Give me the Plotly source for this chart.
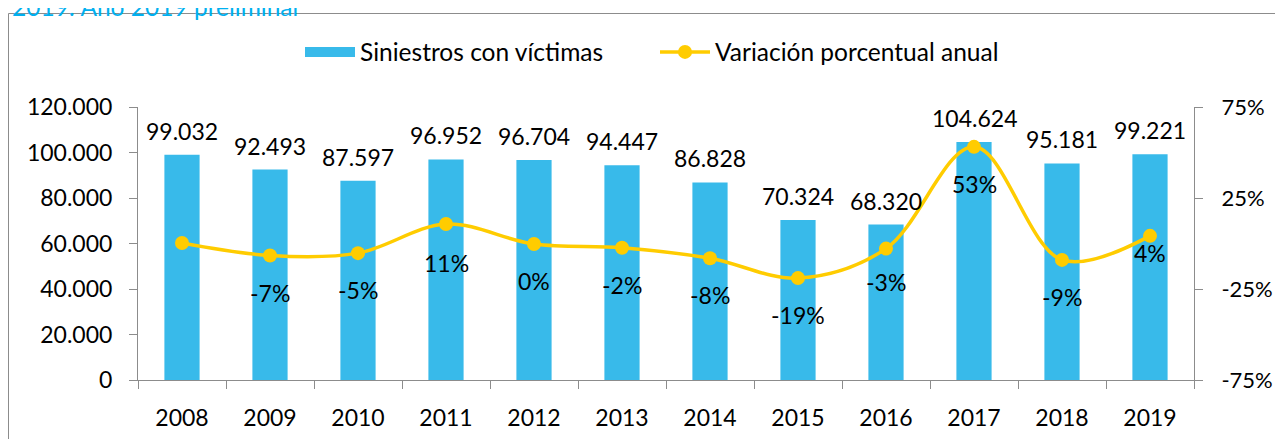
import plotly.graph_objects as go

years = ["2008", "2009", "2010", "2011", "2012", "2013", "2014", "2015", "2016", "2017", "2018", "2019"]
siniestros = [99032, 92493, 87597, 96952, 96704, 94447, 86828, 70324, 68320, 104624, 95181, 99221]
variacion = [0.3, -6.6, -5.3, 10.7, -0.3, -2.3, -8.1, -19.0, -2.8, 53.1, -9.0, 4.2]
show_var_label = [False, True, True, True, True, True, True, True, True, True, True, True]
left_ticks = [0, 20000, 40000, 60000, 80000, 100000, 120000]
right_ticks = [-75, -25, 25, 75]

BAR_COLOR = "#38BAEA"
LINE_COLOR = "#FFCC00"
AXIS_COLOR = "#8C8C8C"
FONT = "Lato, 'Liberation Sans', Arial, sans-serif"
FS = 23
FS_LEG = 24.5

W, H = 1283, 439
OFF = 8  # page body margin
# target plot area in page pixels: x 138..1194, y 107..380
ML = 138 - OFF
MT = 107 - OFF
MR = W - (1194 - OFF)
MB = H - (380 - OFF)
PW = W - ML - MR
PH = H - MT - MB


def px_x(px):
    return (px - OFF - ML) / PW


def px_y(py):
    return (H - MB - (py - OFF)) / PH


fig = go.Figure()

fig.add_trace(go.Bar(
    x=years, y=siniestros, name="Siniestros con víctimas",
    marker=dict(color=BAR_COLOR, line=dict(width=0)),
    width=0.4, yaxis="y", showlegend=False,
))
# legend entry for the bars (wide swatch)
fig.add_trace(go.Scatter(
    x=[None], y=[None], name="Siniestros con víctimas", mode="lines",
    line=dict(color=BAR_COLOR, width=14), yaxis="y", showlegend=True,
))

fig.add_trace(go.Scatter(
    x=years, y=variacion, name="Variación porcentual anual",
    mode="lines+markers", yaxis="y2",
    line=dict(color=LINE_COLOR, width=3.5, shape="spline", smoothing=1.0),
    marker=dict(color=LINE_COLOR, size=14, symbol="circle"),
))

annotations = []
for i, v in enumerate(siniestros):
    annotations.append(dict(
        x=i, y=v, xref="x", yref="y", text=f"{v:,}".replace(",", "."),
        showarrow=False, yanchor="bottom", xanchor="center", yshift=8,
        font=dict(size=FS, color="#000000", family=FONT),
    ))

pct_shift = [-37, -37, -37, -39, -37, -37, -37, -37, -33, -37, -37, -17]
for i, (v, show, sh) in enumerate(zip(variacion, show_var_label, pct_shift)):
    if not show:
        continue
    annotations.append(dict(
        x=i, y=v, xref="x", yref="y2", text=f"{round(v):d}%",
        showarrow=False, yanchor="middle", xanchor="center", yshift=sh,
        font=dict(size=FS, color="#000000", family=FONT),
    ))

annotations.append(dict(
    x=px_x(10), y=px_y(7), xref="paper", yref="paper",
    text="2019: Año 2019 preliminar", showarrow=False,
    xanchor="left", yanchor="middle",
    font=dict(size=FS_LEG, color="#00B0F0", family=FONT),
))

shapes = [dict(
    type="rect", xref="paper", yref="paper",
    x0=px_x(8.5), x1=1.3, y0=-0.6, y1=px_y(13.5),
    line=dict(color=AXIS_COLOR, width=1), fillcolor="rgba(0,0,0,0)", layer="below",
)]

fig.update_layout(
    width=W, height=H,
    margin=dict(l=ML, r=MR, t=MT, b=MB, pad=0, autoexpand=False),
    paper_bgcolor="white", plot_bgcolor="white",
    separators=",.",
    font=dict(family=FONT, size=FS, color="#000000"),
    showlegend=True,
    legend=dict(
        orientation="h", x=px_x(300), y=px_y(52),
        xanchor="left", yanchor="middle",
        font=dict(size=FS_LEG, family=FONT, color="#000000"),
        bgcolor="rgba(0,0,0,0)", itemwidth=50, traceorder="normal",
        entrywidth=290, entrywidthmode="pixels",
    ),
    xaxis=dict(
        type="category", range=[-0.5, len(years) - 0.5], autorange=False,
        showgrid=False, showline=True, linecolor=AXIS_COLOR, linewidth=1,
        ticks="outside", tickson="boundaries", ticklen=8, tickcolor=AXIS_COLOR,
        tickfont=dict(size=FS, family=FONT, color="#000000"), tickangle=0,
        ticklabelstandoff=17, zeroline=False, automargin=False,
    ),
    yaxis=dict(
        range=[0, 120000], tickvals=left_ticks, tickformat=",d",
        showgrid=False, showline=True, linecolor=AXIS_COLOR, linewidth=1,
        ticks="outside", ticklen=8, tickcolor=AXIS_COLOR,
        tickfont=dict(size=FS, family=FONT, color="#000000"),
        ticklabelstandoff=12, zeroline=False, automargin=False,
    ),
    yaxis2=dict(
        range=[-75, 75], tickvals=right_ticks,
        ticktext=[f"{v}%" for v in right_ticks],
        overlaying="y", side="right",
        showgrid=False, showline=True, linecolor=AXIS_COLOR, linewidth=1,
        ticks="outside", ticklen=8, tickcolor=AXIS_COLOR,
        tickfont=dict(size=22, family=FONT, color="#000000"),
        ticklabelstandoff=14, zeroline=False, automargin=False,
    ),
    annotations=annotations,
    shapes=shapes,
)

fig.write_html("out.html")
